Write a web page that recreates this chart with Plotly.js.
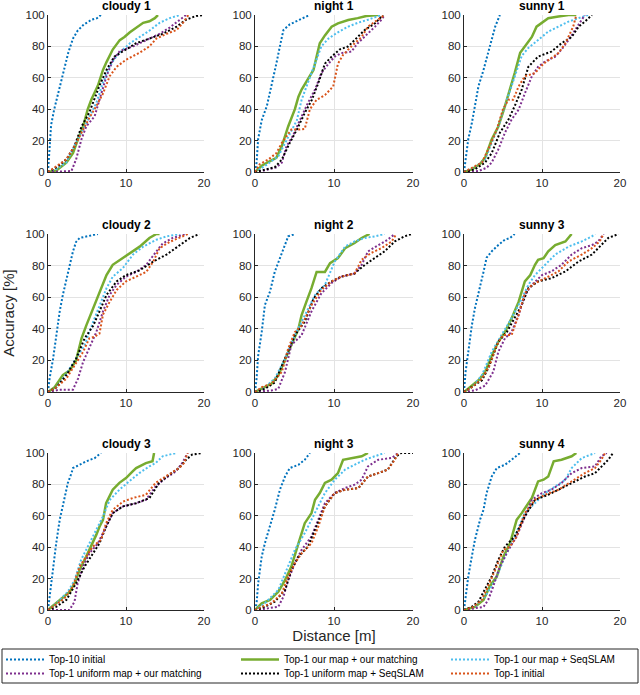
<!DOCTYPE html>
<html><head><meta charset="utf-8">
<script src="https://cdn.plot.ly/plotly-3.0.1.min.js"></script>
<style>html,body{margin:0;padding:0;background:#fff}#chart{width:640px;height:695px}</style>
</head><body><div id="chart"></div>
<script>
// ---- data (distance [m], accuracy [%]) ----
const panelTitles = ['cloudy 1','night 1','sunny 1','cloudy 2','night 2','sunny 3','cloudy 3','night 3','sunny 4'];
const seriesNames = ['Top-10 initial','Top-1 our map + our matching','Top-1 our map + SeqSLAM','Top-1 uniform map + our matching','Top-1 uniform map + SeqSLAM','Top-1 initial'];
const xTicks = [0,10,20];
const yTicks = [0,20,40,60,80,100];

const cloudy1_top10 = [[0,0],[0.15,12],[0.4,30],[0.8,40],[1.4,53],[2.0,64],[2.6,76],[3.2,85],[3.8,90],[4.6,94],[5.6,97],[6.3,98],[6.8,100]];
const cloudy1_ourOur = [[0,0],[1.1,1],[2.35,6],[3.2,12],[3.85,21],[4.5,29],[5.1,40],[5.55,46],[6.4,55],[7.05,65],[7.5,70],[8.3,78],[9.2,84],[9.8,86],[10.5,89],[11.3,92],[12.2,95],[13,96],[13.7,98],[14.1,100]];
const cloudy1_ourSeq = [[0,0],[1.1,2],[2.35,6],[3.6,19],[4.9,31],[6.2,44],[7.05,57],[7.9,67],[8.5,72],[9.4,77],[10.5,82],[11.75,86],[13,90],[14.3,95],[15.6,98],[16.9,100]];
const cloudy1_uniOur = [[0,0],[3,0.6],[3.6,8],[4.3,21],[4.9,29],[5.98,35.5],[6.6,46],[7.5,61],[8.3,71],[9.2,77],[10.9,80],[12.6,84],[14.3,88],[15.6,92],[16.7,96],[17.7,100]];
const cloudy1_uniSeq = [[0,0],[1.1,3],[2.35,8],[3.4,16.5],[4.3,29],[5.3,38],[6.6,55],[7.5,65],[8.5,73.5],[9.6,77],[11.3,82],[13,85],[14.7,88],[16.5,92.6],[17.7,97],[19,99.4],[19.9,100]];
const cloudy1_init = [[0,0],[0.85,3],[2.35,8],[3.4,16.5],[4.5,27],[5.3,34.5],[6.2,42],[7.05,50],[7.9,61],[8.8,67],[10,71.5],[11.75,76],[13,80],[13.9,85],[15.2,88],[16.5,90.5],[17.3,95],[18,100]];

const night1_top10 = [[0,0],[0.2,6],[0.4,21],[0.85,33],[1.5,42],[2.1,54.5],[2.7,69],[3.15,80],[3.6,90.5],[4.4,94],[5.3,96],[6.1,98],[6.9,100]];
const night1_ourOur = [[0,0],[0.85,4],[1.9,7],[2.7,9],[3.4,16.5],[4.2,29],[5.05,40],[5.5,48],[5.9,52.5],[6.3,55.6],[6.95,61],[7.4,65],[7.8,73.5],[8.2,82],[8.85,87],[9.7,92.6],[10.5,94.7],[11.8,96.8],[13,98],[14.1,99.4],[15.6,100]];
const night1_ourSeq = [[0,0],[1.3,4],[2.95,10],[4,20.7],[5.3,33],[5.9,46],[6.7,56.5],[7.6,69],[8.4,80],[9.3,85],[10.5,89],[11.8,92.6],[13,95],[14.3,97],[15.6,99.4],[16,100]];
const night1_uniOur = [[0,0],[0.85,0.6],[2.7,3],[3.4,6],[4,16.5],[4.8,23],[5.5,31],[6.1,37.6],[6.7,44],[7.6,52.5],[8.4,63],[9.3,69],[10.1,73.5],[10.9,75.7],[12.2,76.7],[13,82],[14.3,88],[15.2,92.6],[16,97],[16.4,100]];
const night1_uniSeq = [[0,0],[1.3,1.7],[2.5,3],[3.4,8],[4.4,18.6],[5.3,27],[6.3,37.6],[7.2,46],[8,56.5],[8.85,69],[9.7,73.5],[10.7,78],[11.8,80],[13,86],[13.9,90.5],[15.2,94.7],[16.2,100]];
const night1_init = [[0,0],[0.6,5],[1.7,8],[2.7,12],[3.4,18.6],[4,23],[4.6,27],[5.5,27],[6.3,27.5],[6.95,40],[7.8,46],[8.85,49],[9.9,54.5],[10.5,69],[11.15,74.6],[12.2,80],[13.5,86],[14.3,92.6],[15.6,97],[16.4,100]];

const sunny1_top10 = [[0,0],[0.2,8],[0.55,21],[1,31],[1.4,42],[1.85,54.5],[2.5,65],[3.1,76],[3.55,84],[4,92.6],[4.6,100]];
const sunny1_ourOur = [[0,0],[1,1.7],[2.05,5],[2.7,9],[3.55,20.7],[4.4,29],[5.25,42],[5.9,52.5],[6.5,63],[7.2,76],[7.8,80],[8.7,86],[9.3,92.6],[10,95],[10.8,98],[12.1,99],[13.4,100],[14.4,100]];
const sunny1_ourSeq = [[0,0],[1.4,3],[2.7,8],[3.55,18.6],[4.4,29],[5.5,46],[6.5,61],[7.4,74],[8.25,79],[9.5,84],[10.8,89.4],[12.1,92.6],[13.4,95.8],[14.7,98],[15.9,100]];
const sunny1_uniOur = [[0,0],[1.85,0.6],[2.9,2.7],[3.55,6],[4.4,14.4],[5.25,25],[6.1,33.4],[7,39.7],[7.8,50],[8.7,61],[9.5,67],[10.4,70.4],[11.7,73.5],[12.5,78],[13.4,84],[14.2,90.5],[15.1,97],[15.5,100]];
const sunny1_uniSeq = [[0,0],[1.4,1.7],[2.7,6],[3.55,12],[4.6,25],[5.7,33.4],[6.5,42],[7.4,52.5],[8.25,67],[9.5,73.5],[11.2,76.7],[12.5,82],[13.8,86],[14.7,92.6],[15.5,95.8],[16.4,100]];
const sunny1_init = [[0,0],[1,2.7],[2.3,6],[3.3,16.5],[4.2,27],[5,40],[5.7,46],[6.3,46],[7,54.5],[7.8,61],[9.1,63],[10.2,69],[11.2,72.5],[12.1,75.7],[13,82],[13.6,88],[14,92.6],[14.4,100]];

const cloudy2_top10 = [[0,0],[0.2,8.5],[0.65,21],[1.1,38],[1.5,51],[1.9,61.4],[2.35,72],[2.8,80.5],[3.2,89],[3.6,95],[4.05,97.5],[5.1,98.5],[6.4,100]];
const cloudy2_ourOur = [[0,0],[0.85,3],[1.9,10.6],[2.8,13.8],[3.6,20],[4.3,34],[4.9,42],[5.8,53],[6.6,63.6],[7.5,74],[8.3,80.5],[9.6,84.7],[10.5,88],[11.75,92],[13,97.5],[13.9,100],[14.3,100]];
const cloudy2_ourSeq = [[0,0],[1.1,3],[2.35,11.6],[3.6,21],[4.7,29.7],[5.8,44.5],[6.6,55],[7.5,65.7],[8.3,73],[9.6,78.4],[10.9,87],[12.2,92],[13.9,96.4],[15.2,98.5],[16.9,100]];
const cloudy2_uniOur = [[0,0],[1.5,1.5],[3.2,1.5],[3.85,8.5],[4.5,19],[5.3,27.5],[6.2,38],[7.05,51],[7.9,61.4],[8.8,67.8],[10,73],[11.3,76],[12.6,80.5],[13.9,89],[14.7,94],[16,97.5],[17.7,100]];
const cloudy2_uniSeq = [[0,0],[1.1,3],[2.35,10.6],[3.6,21],[4.7,34],[5.8,42],[6.6,51],[7.5,61.4],[8.8,70],[10,74],[11.75,77],[13.5,82.6],[15.2,87],[16.9,93],[18.2,97.5],[19.4,100]];
const cloudy2_init = [[0,0],[1.1,3],[2.35,8.5],[3.4,17],[4.5,25.4],[5.3,34],[5.98,35],[6.6,37],[7.05,49],[7.9,57],[8.8,64.6],[10,70],[11.3,73],[12.6,76],[13.5,82.6],[14.3,91],[15.6,95],[16.9,97.5],[17.95,100]];

const night2_top10 = [[0,0],[0.2,8.5],[0.4,23],[0.85,38],[1.25,55],[1.9,63.6],[2.5,76],[3.15,85],[3.8,93],[4.2,98.5],[5.05,100]];
const night2_ourOur = [[0,0],[0.85,2],[2.1,5.3],[2.95,10.6],[3.8,21],[4.6,29.7],[5.5,40],[5.9,48.7],[6.5,57],[7.15,65.7],[7.8,76],[8.85,76],[9.5,81.6],[10.5,84.7],[11.4,91],[12.6,94.3],[13.5,97.5],[14.5,100]];
const night2_ourSeq = [[0,0],[1.25,3],[2.5,8.5],[3.8,21],[5.05,36],[6.3,48.7],[7.6,61.4],[8.85,67.8],[10.1,82.6],[11.4,92],[12.6,95.3],[13.9,97.5],[15.2,98.5],[16.4,100]];
const night2_uniOur = [[0,0],[2.1,1],[2.95,2],[3.8,12.7],[4.6,29.7],[5.9,36],[7.15,51],[8.4,62.5],[9.7,69],[10.9,73],[12.6,75],[13.5,80.5],[14.3,89],[15.6,93],[16.8,96.4],[17.7,100]];
const night2_uniSeq = [[0,0],[1.25,2],[2.5,6],[3.8,21],[5.05,36],[6.3,44.5],[7.4,59],[8.4,65.7],[9.7,70],[10.9,73],[12.6,75],[13.9,80.5],[15.2,84.7],[16.4,89],[17.7,95.3],[18.9,98.5],[19.8,100]];
const night2_init = [[0,0],[0.85,3],[2.1,5.3],[3.4,12.7],[4.2,27.5],[5.05,38],[5.9,42],[7.15,55],[8.4,64.6],[9.7,70],[10.9,73],[12.6,75],[13.5,83.7],[14.7,88],[16,91],[17.3,95.3],[17.9,100]];

const sunny3_top10 = [[0,0],[0.2,12.7],[0.55,25.4],[1,42],[1.4,53],[2.05,65.7],[2.5,76],[2.9,85],[3.55,89],[4.4,93],[5.25,96.4],[5.9,97.5],[6.5,100]];
const sunny3_ourOur = [[0,0],[1,4],[1.85,7.4],[2.7,12.7],[3.55,23],[4.4,31.8],[5.25,38],[6.1,46.6],[7,57],[7.8,70],[8.5,74],[9.1,80.5],[9.5,83.7],[10.2,84.7],[10.8,89],[11.7,93],[13,95.3],[13.8,100]];
const sunny3_ourSeq = [[0,0],[1,3],[2.3,10.6],[3.55,25.4],[4.8,36],[6.1,46.6],[7.4,59],[8.25,67.8],[9.1,74],[10.4,80.5],[11.7,87],[13.4,92],[15.1,95.3],[16.4,98.5],[16.8,100]];
const sunny3_uniOur = [[0,0],[1.4,1],[2.7,4],[3.75,12.7],[4.4,25.4],[5.25,34],[6.1,38],[7,48.7],[7.8,61.4],[8.7,67.8],[10,74],[11.2,76.3],[12.5,80.5],[13.8,87],[15.1,91],[16.4,93],[17.2,95.3],[17.9,100]];
const sunny3_uniSeq = [[0,0],[1,3],[2.3,7.4],[3.1,15],[3.75,23],[4.4,31.8],[5.5,38],[6.5,46.6],[7.4,55],[8.25,65.7],[9.5,70],[11.2,72],[13,76.3],[14.7,82.6],[16.4,87],[17.2,91],[18.5,97.5],[19.8,100]];
const sunny3_init = [[0,0],[1,3],[2.3,8.5],[3.3,17],[4.2,29.7],[5,36],[6.1,36],[7,48.7],[7.8,62.5],[8.7,67.8],[10.4,72],[12.1,76.3],[13.4,82.6],[15.1,87],[16.4,91],[17.4,95.3],[17.9,100]];

const cloudy3_top10 = [[0,0],[0.2,8.5],[0.65,25.5],[1.05,42.5],[1.5,57.4],[2.1,70],[2.55,81],[3,87],[3.2,90.4],[4.05,92.5],[4.9,94.7],[6,96.8],[6.8,100]];
const cloudy3_ourOur = [[0,0],[1.05,4.3],[1.9,7.4],[2.8,11.7],[3.4,17],[4.05,25.5],[4.9,34],[5.75,42.5],[6.2,48],[6.6,53],[7.05,57.4],[7.45,68],[8.3,76.6],[9.15,81],[10,84],[10.85,88.3],[11.3,90.4],[12.55,93.6],[13.4,94.7],[13.6,100]];
const cloudy3_ourSeq = [[0,0],[1.3,5.3],[2.55,11.7],[3.4,19],[4.25,32],[5.3,42.5],[6.2,51],[7.05,59.6],[7.9,70],[9.15,76.6],[10.4,81.9],[11.7,87.2],[13,91.5],[13.8,93.6],[14.7,97.9],[16.4,100]];
const cloudy3_uniOur = [[0,0],[2.75,0],[3.4,5.3],[3.8,17],[4.5,27.7],[5.3,36],[6.4,42.5],[7.45,53],[8.3,61.7],[9.6,66],[11.3,68],[12.55,70.2],[13.8,78.7],[15.1,84],[16.4,88.3],[17.2,93.6],[17.9,100]];
const cloudy3_uniSeq = [[0,0],[1.05,2],[2.35,6.4],[3.6,17],[4.7,27.7],[5.75,36],[6.6,42.5],[7.45,53],[8.3,61.7],[9.6,66],[11.3,68],[13,71.3],[14.25,81],[15.5,86],[16.8,90.4],[17.7,95.7],[18.5,99],[19.8,100]];
const cloudy3_init = [[0,0],[0.85,3],[2.1,7.4],[3.2,15],[4.05,27.7],[4.9,34],[5.75,40.4],[6.8,44.7],[7.45,55.3],[8.3,63.8],[9.6,69],[10.85,71.3],[12.55,73.4],[13.8,81],[15.1,85],[16.8,90.4],[17.45,93.6],[17.9,100]];

const night3_top10 = [[0,0],[0.2,4.3],[0.4,17],[0.85,34],[1.25,42.5],[1.9,53],[2.5,63.8],[3.15,76.6],[3.8,85],[4.4,90.4],[5.5,92.5],[6.3,95.7],[6.95,100]];
const night3_ourOur = [[0,0],[0.85,4.3],[1.9,6.4],[2.95,11.7],[3.8,19],[4.6,27.7],[5.5,42.5],[6.3,55.3],[7.15,61.7],[7.6,70.2],[8.2,74.5],[8.85,81],[9.7,83],[10.5,87.2],[11.15,95.7],[12.2,96.8],[13.5,97.9],[14.3,100]];
const night3_ourSeq = [[0,0],[1.25,4.3],[2.95,12.8],[4,25.5],[5.05,38.3],[6.3,49],[7.6,61.7],[8.85,74.5],[10.1,83],[11.4,89.4],[12.6,92.5],[13.9,95.7],[15.15,97.9],[16.4,100]];
const night3_uniOur = [[0,0],[1.25,1],[2.95,2],[3.6,8.5],[4.2,19],[5.05,29.8],[5.9,38.3],[7.15,46.8],[8,57.4],[8.85,68],[10.1,74.5],[11.4,77.7],[12.6,79.8],[13.5,83],[14.3,91.5],[15.6,95.7],[17.3,96.8],[18.1,100]];
const night3_uniSeq = [[0,0],[1.25,2],[2.5,5.3],[3.8,12.8],[4.6,25.5],[5.5,34],[6.7,40.4],[8,55.3],[8.85,66],[10.1,74.5],[11.4,76.6],[13.1,77.7],[14.3,85],[15.6,87.2],[16.8,89.4],[17.9,97.9],[18.5,100],[20,100]];
const night3_init = [[0,0],[0.85,2],[2.1,4.3],[3.4,10.6],[4.2,21.3],[5.05,29.8],[5.9,36],[7.15,42.5],[8,53],[8.85,66],[10.1,74.5],[11.4,76.6],[13.1,77.7],[14.3,85],[15.6,87.2],[16.8,89.4],[17.7,95.7],[18.1,100]];

const sunny4_top10 = [[0,0],[0.2,8.5],[0.55,21.3],[1,34],[1.4,44.7],[2.05,57.4],[2.5,63.8],[2.9,74.5],[3.55,85],[4.2,90.4],[5.25,92.5],[6.1,95.7],[7.2,100]];
const sunny4_ourOur = [[0,0],[1.4,2],[2.5,6.4],[3.3,15],[4.2,21.3],[5.05,34],[5.9,42.5],[6.3,49],[6.75,57.4],[7.4,61.7],[8,66],[8.7,71.3],[9.5,81.9],[10.2,83],[10.8,85],[11.5,94.7],[12.5,95.7],[13.8,97.9],[14.4,100]];
const sunny4_ourSeq = [[0,0],[1.4,2],[2.7,8.5],[4,19],[5.25,34],[6.5,46.8],[7.8,61.7],[9.1,68],[10.4,74.5],[11.7,78.7],[13,83],[13.8,90.4],[15.1,96.8],[16.8,100]];
const sunny4_uniOur = [[0,0],[1.4,1],[2.5,2],[3.1,6.4],[3.75,15],[4.6,27.7],[5.7,38.3],[6.75,46.8],[7.8,59.6],[8.7,70.2],[10,74.5],[11.2,76.6],[12.5,80.9],[13.8,87.2],[15.1,90.4],[16.8,91.5],[17.6,97.9],[18.3,100]];
const sunny4_uniSeq = [[0,0],[1,2],[1.85,5.3],[2.7,13.8],[3.55,21.3],[4.4,32],[5.25,40.4],[6.5,46.8],[7.8,59.6],[9.1,70.2],[10.8,73.4],[12.1,76.6],[13.8,80.9],[15.5,85],[16.8,87.2],[17.6,91.5],[18.5,95.7],[19.1,100]];
const sunny4_init = [[0,0],[1.2,2],[2.3,6.4],[3.1,15],[4,25.5],[5.05,38.3],[5.9,40.4],[6.75,46.8],[7.8,61.7],[9.1,70.2],[10.4,73.4],[12.1,76.6],[13.8,82],[15.5,87.2],[16.8,90.4],[17.6,95.7],[18.1,100]];

const panels = [
  [cloudy1_top10,cloudy1_ourOur,cloudy1_ourSeq,cloudy1_uniOur,cloudy1_uniSeq,cloudy1_init],
  [night1_top10,night1_ourOur,night1_ourSeq,night1_uniOur,night1_uniSeq,night1_init],
  [sunny1_top10,sunny1_ourOur,sunny1_ourSeq,sunny1_uniOur,sunny1_uniSeq,sunny1_init],
  [cloudy2_top10,cloudy2_ourOur,cloudy2_ourSeq,cloudy2_uniOur,cloudy2_uniSeq,cloudy2_init],
  [night2_top10,night2_ourOur,night2_ourSeq,night2_uniOur,night2_uniSeq,night2_init],
  [sunny3_top10,sunny3_ourOur,sunny3_ourSeq,sunny3_uniOur,sunny3_uniSeq,sunny3_init],
  [cloudy3_top10,cloudy3_ourOur,cloudy3_ourSeq,cloudy3_uniOur,cloudy3_uniSeq,cloudy3_init],
  [night3_top10,night3_ourOur,night3_ourSeq,night3_uniOur,night3_uniSeq,night3_init],
  [sunny4_top10,sunny4_ourOur,sunny4_ourSeq,sunny4_uniOur,sunny4_uniSeq,sunny4_init]
];

// ---- styling / layout ----
const W = 640, H = 695;
const FONT = 'Liberation Sans, Arial, Helvetica, sans-serif';
const colors = ['#0072BD','#77AC30','#4DBEEE','#7E2F8E','#000000','#D95319'];
const colPx = [[48,204],[255,413],[464,620]];
const rowPx = [[15,172],[234,392],[453,610]];
const legendColPx = [1, 236, 446];
const legendRowPx = [645, 659];

const legendBase = {
  orientation: 'h', xanchor: 'left', yanchor: 'top',
  font: {family: FONT, size: 10, color: '#000'},
  itemwidth: 38,
  bgcolor: 'rgba(0,0,0,0)', borderwidth: 0, traceorder: 'normal'
};

const traces = [];
const layout = {
  width: W, height: H,
  margin: {l:0, r:0, t:0, b:0},
  paper_bgcolor: '#fff', plot_bgcolor: '#fff',
  font: {family: FONT, color: '#262626', size: 11},
  showlegend: true,
  annotations: [],
  shapes: [{
    type: 'rect', xref: 'paper', yref: 'paper',
    x0: 2/W, x1: 638/W, y0: 1 - 683/H, y1: 1 - 649/H,
    line: {color: '#262626', width: 1}, fillcolor: 'rgba(0,0,0,0)'
  }]
};
// one legend slot per entry, laid out 3 columns x 2 rows
seriesNames.forEach((nm, k) => {
  const key = k === 0 ? 'legend' : 'legend' + (k + 1);
  layout[key] = Object.assign({}, legendBase, {
    x: legendColPx[k % 3] / W, y: 1 - legendRowPx[Math.floor(k / 3)] / H
  });
});

panels.forEach((series, i) => {
  const r = Math.floor(i/3), c = i % 3, n = i + 1;
  const xs = n === 1 ? '' : String(n);
  series.forEach((pts, k) => {
    traces.push({
      type: 'scatter', mode: 'lines',
      x: pts.map(p => p[0]), y: pts.map(p => p[1]),
      xaxis: 'x' + xs, yaxis: 'y' + xs,
      name: seriesNames[k], legendgroup: 'g' + k, showlegend: i === 0,
      legend: k === 0 ? 'legend' : 'legend' + (k + 1),
      line: {color: colors[k], width: k === 1 ? 2.5 : 2, dash: k === 1 ? 'solid' : '2px,2px'},
      hoverinfo: 'skip'
    });
  });
  const xdom = [colPx[c][0]/W, colPx[c][1]/W];
  const ydom = [1 - rowPx[r][1]/H, 1 - rowPx[r][0]/H];
  const common = {
    showgrid: true, gridcolor: '#e3e3e3', gridwidth: 1, zeroline: false,
    showline: true, linecolor: '#262626', linewidth: 1, mirror: false,
    ticks: 'inside', ticklen: 3, tickcolor: '#262626',
    tickfont: {family: FONT, size: 11.5, color: '#262626'},
    fixedrange: true
  };
  layout['xaxis' + xs] = Object.assign({}, common, {
    domain: xdom, anchor: 'y' + xs, range: [0, 20], tickvals: xTicks, ticktext: xTicks.map(String)
  });
  layout['yaxis' + xs] = Object.assign({}, common, {
    domain: ydom, anchor: 'x' + xs, range: [0, 100], tickvals: yTicks, ticktext: yTicks.map(String)
  });
  layout.annotations.push({
    xref: 'paper', yref: 'paper', x: (xdom[0] + xdom[1]) / 2, y: ydom[1],
    xanchor: 'center', yanchor: 'bottom', yshift: 0, showarrow: false,
    text: '<b>' + panelTitles[i] + '</b>',
    font: {family: FONT, size: 12, color: '#000'}
  });
});

layout.yaxis4.title = {text: 'Accuracy [%]', font: {family: FONT, size: 15, color: '#262626'}, standoff: 8};
layout.xaxis8.title = {text: 'Distance [m]', font: {family: FONT, size: 15, color: '#262626'}, standoff: 4};

Plotly.newPlot('chart', traces, layout, {staticPlot: true, displayModeBar: false});
</script>
</body></html>
